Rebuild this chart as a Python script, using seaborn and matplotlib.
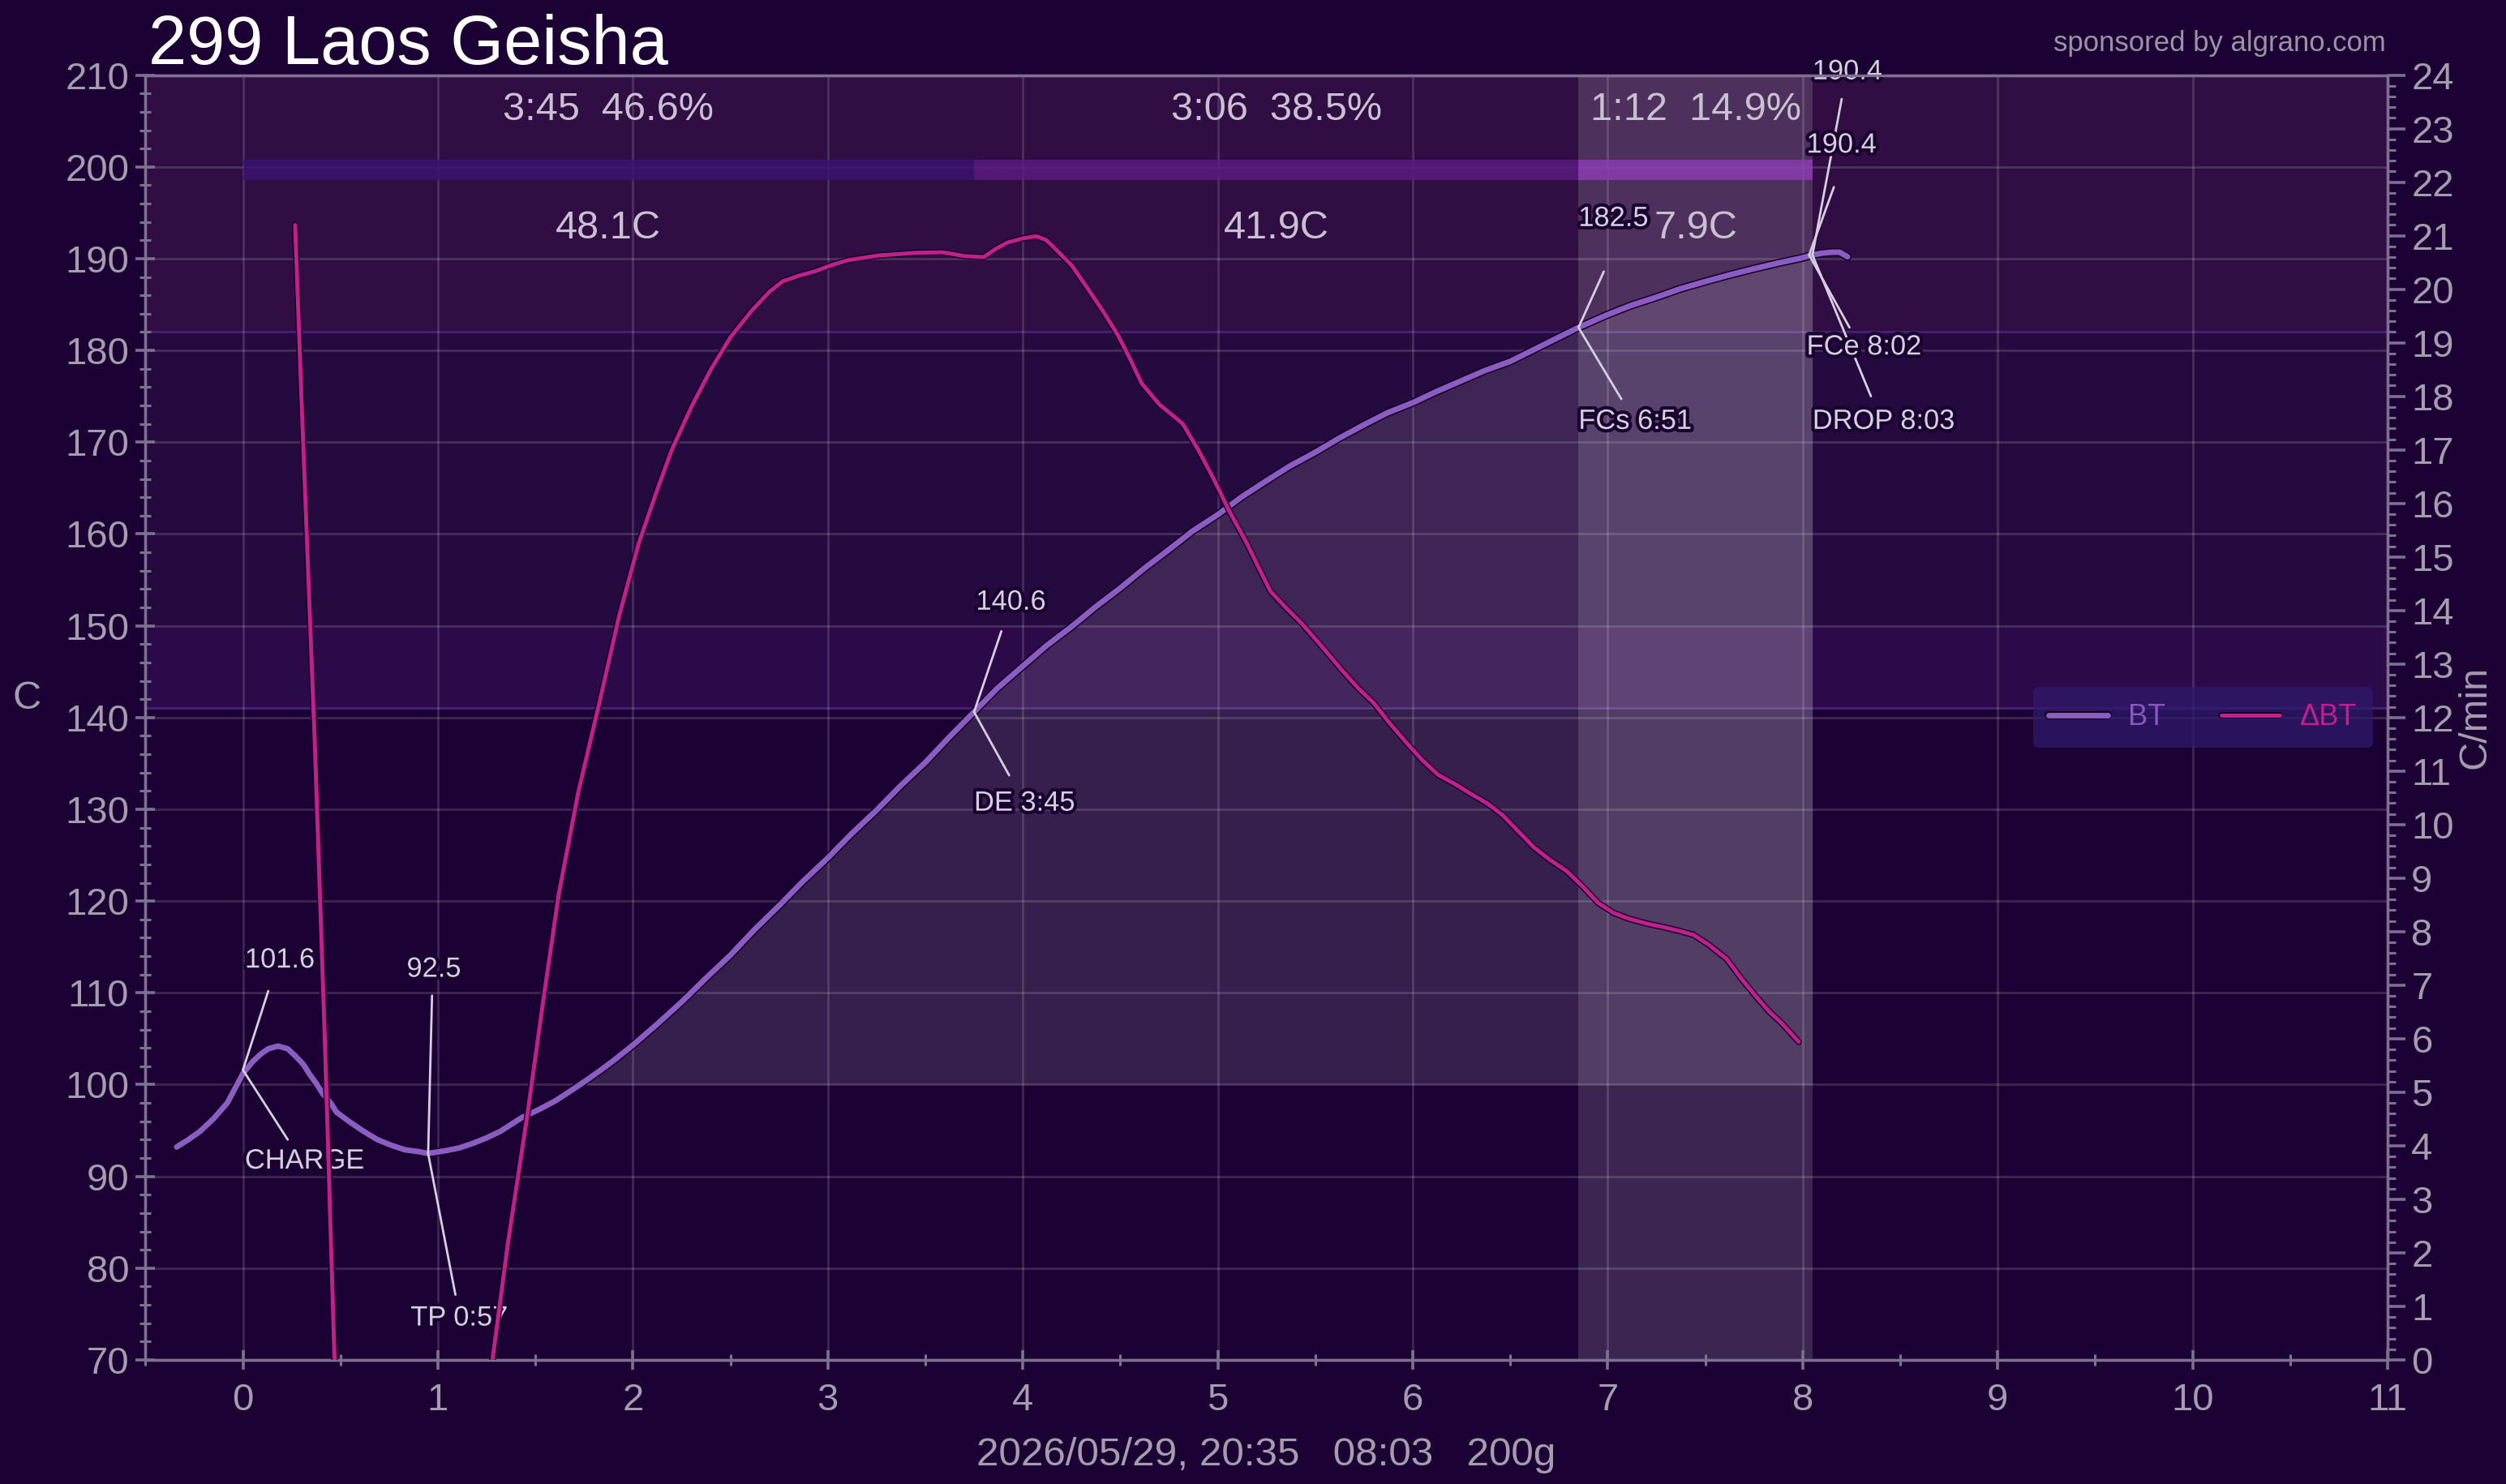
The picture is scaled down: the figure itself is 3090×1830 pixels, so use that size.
import numpy as np
import pandas as pd
import matplotlib
matplotlib.use("Agg")
import matplotlib.pyplot as plt
import matplotlib.patheffects as pe
from matplotlib.ticker import MultipleLocator
import seaborn as sns

# ---------------- data ----------------
TITLE = "299 Laos Geisha"
SPONSOR = "sponsored by algrano.com"
XLABEL = "2026/05/29, 20:35   08:03   200g"
Y_LABEL_LEFT = "C"
Y_LABEL_RIGHT = "C/min"

bt_time = [-0.34, -0.28, -0.22, -0.15, -0.08, 0.0, 0.05, 0.09, 0.13, 0.18, 0.23, 0.27, 0.31,
           0.34, 0.38, 0.41, 0.45, 0.48, 0.55, 0.62, 0.69, 0.76, 0.83, 0.9, 0.95, 1.04,
           1.11, 1.18, 1.25, 1.32, 1.43, 1.52, 1.6, 1.68, 1.75, 1.83, 1.9, 2.0, 2.12,
           2.25, 2.37, 2.5, 2.62, 2.75, 2.87, 3.0, 3.12, 3.25, 3.37, 3.5, 3.62, 3.75, 3.87,
           4.0, 4.12, 4.25, 4.37, 4.5, 4.62, 4.75, 4.87, 5.0, 5.12, 5.25, 5.37, 5.5, 5.62,
           5.75, 5.87, 6.0, 6.12, 6.25, 6.37, 6.5, 6.67, 6.85, 7.0, 7.12, 7.25, 7.37, 7.5,
           7.62, 7.75, 7.87, 8.0, 8.05, 8.1, 8.15, 8.19, 8.23]
bt_temp = [93.2, 94.0, 94.9, 96.3, 98.0, 101.2, 102.5, 103.3, 103.9, 104.2, 103.9, 103.1, 102.2,
           101.2, 100.0, 99.0, 98.0, 97.0, 95.9, 94.9, 94.0, 93.4, 92.9, 92.7, 92.5, 92.8,
           93.1, 93.6, 94.2, 94.9, 96.4, 97.3, 98.2, 99.3, 100.3, 101.5, 102.6, 104.3, 106.5,
           109.0, 111.5, 114.1, 116.8, 119.5, 122.1, 124.7, 127.3, 129.9, 132.5, 135.1,
           137.8, 140.6, 143.2, 145.6, 147.8, 149.9, 152.0, 154.1, 156.2, 158.3, 160.3, 162.1,
           164.0, 165.8, 167.4, 168.9, 170.4, 171.9, 173.2, 174.3, 175.5, 176.7, 177.8, 178.8,
           180.6, 182.5, 183.9, 184.9, 185.8, 186.7, 187.5, 188.2, 188.9, 189.5, 190.1, 190.4,
           190.6, 190.7, 190.7, 190.2]

ror_time = [0.268, 0.3, 0.37, 0.42, 0.47, 0.52, 1.22, 1.28, 1.36, 1.46, 1.54, 1.62, 1.72,
            1.83, 1.93, 2.03, 2.12, 2.2, 2.3, 2.4, 2.5, 2.61, 2.7, 2.77, 2.85, 2.93, 3.02,
            3.1, 3.26, 3.45, 3.59, 3.7, 3.8, 3.86, 3.92, 4.0, 4.07, 4.12, 4.16, 4.25, 4.33,
            4.41, 4.49, 4.55, 4.61, 4.7, 4.82, 4.9, 4.98, 5.06, 5.15, 5.21, 5.27, 5.35, 5.43,
            5.54, 5.64, 5.72, 5.8, 5.88, 5.97, 6.05, 6.13, 6.22, 6.3, 6.38, 6.46, 6.54, 6.62,
            6.7, 6.79, 6.87, 6.95, 7.03, 7.11, 7.2, 7.28, 7.36, 7.44, 7.52, 7.61, 7.69, 7.77,
            7.83, 7.89, 7.98]
ror_value = [21.2, 18.0, 11.4, 6.0, 0.0, -2.0, -2.0, 0.0, 2.2, 4.6, 6.7, 8.7, 10.6, 12.3,
             13.9, 15.25, 16.2, 17.0, 17.8, 18.5, 19.1, 19.6, 19.95, 20.15, 20.25, 20.33,
             20.45, 20.54, 20.63, 20.68, 20.69, 20.62, 20.6, 20.75, 20.87, 20.95, 20.99,
             20.92, 20.78, 20.45, 20.03, 19.6, 19.13, 18.7, 18.24, 17.85, 17.49, 17.0, 16.45,
             15.85, 15.25, 14.8, 14.36, 14.05, 13.76, 13.3, 12.87, 12.55, 12.27, 11.9, 11.52,
             11.2, 10.93, 10.75, 10.57, 10.4, 10.18, 9.88, 9.58, 9.35, 9.13, 8.85, 8.54, 8.35,
             8.24, 8.15, 8.09, 8.02, 7.94, 7.75, 7.49, 7.1, 6.75, 6.5, 6.3, 5.94]

event_time = [0.0, 0.95, 3.75, 6.85, 8.033, 8.05]
event_temp = [101.6, 92.5, 140.6, 182.5, 190.4, 190.4]
event_labels = ["CHARGE", "TP 0:57", "DE 3:45", "FCs 6:51", "FCe 8:02", "DROP 8:03"]
event_temp_labels = ["101.6", "92.5", "140.6", "182.5", "190.4", "190.4"]

phase_start = [0.0, 3.75, 6.85]
phase_end = [3.75, 6.85, 8.05]
phase_duration = ["3:45", "3:06", "1:12"]
phase_percent = ["46.6%", "38.5%", "14.9%"]
phase_rise = ["48.1C", "41.9C", "7.9C"]

band_low = [141, 150, 182]
band_high = [150, 182, 210]

# ---------------- layout / style constants ----------------
BG = "#1c0234"
BAND_COLORS = ["#2c0949", "#250a3f", "#300d42"]
PHASE_BAR_COLORS = ["#3b1270", "#5a1a80", "#8a3cb0"]
BT_COLOR = "#8a5cc4"
ROR_COLOR = "#c21f8e"
TICK_COLOR = "#a59cae"
SPINE_COLOR = "#7d7090"
ANNOT_COLOR = "#d6cfe0"

# text placement for annotations (label anchor, connector end), in data units
temp_text_pos = [(0.01, 113.5), (0.84, 112.5), (3.76, 152.5), (6.85, 194.3), (8.02, 202.3), (8.05, 210.3)]
temp_line_end = [(0.13, 110.2), (0.97, 109.7), (3.89, 149.4), (6.98, 188.6), (8.16, 197.8), (8.20, 207.4)]
event_text_pos = [(0.01, 91.6), (0.86, 74.5), (3.75, 130.6), (6.85, 172.2), (8.02, 180.3), (8.05, 172.2)]
event_line_end = [(0.23, 94.0), (1.09, 77.1), (3.93, 133.7), (7.07, 174.7), (8.24, 182.5), (8.35, 175.0)]

sns.set_theme(style="dark")
plt.rcParams["font.family"] = ["Liberation Sans", "DejaVu Sans"]
plt.rcParams["axes.unicode_minus"] = False

fig = plt.figure(figsize=(15.45, 9.15), dpi=200, facecolor=BG)
AX_RECT = [0.05803, 0.08361, 0.89473, 0.86579]
ax = fig.add_axes(AX_RECT)
ax.set_facecolor(BG)
ax.set_xlim(-0.5, 11)
ax.set_ylim(70, 210)

# horizontal background bands
for lo, hi, c in zip(band_low, band_high, BAND_COLORS):
    ax.axhspan(lo, hi, color=c, zorder=0.1, lw=0)
for y in (band_low[0], band_low[2]):
    ax.axhline(y, color="#48207a", lw=1.0, zorder=0.2)

# grid
ax.xaxis.set_major_locator(MultipleLocator(1))
ax.xaxis.set_minor_locator(MultipleLocator(0.5))
ax.yaxis.set_major_locator(MultipleLocator(10))
ax.yaxis.set_minor_locator(MultipleLocator(2))
ax.grid(True, which="major", color="white", alpha=0.15, lw=1.0, zorder=0.3)
ax.set_axisbelow(True)

# development band (FCs -> DROP)
ax.axvspan(event_time[3], event_time[5], color="white", alpha=0.145, lw=0, zorder=0.5)

# phase bars at top
for s, e, c in zip(phase_start, phase_end, PHASE_BAR_COLORS):
    ax.fill_between([s, e], 198.6, 200.8, color=c, alpha=0.85, lw=0, zorder=0.6)

# phase texts
for s, e, d, p, r in zip(phase_start, phase_end, phase_duration, phase_percent, phase_rise):
    xc = (s + e) / 2
    ax.text(xc, 206.2, f"{d}  {p}", ha="center", va="center", fontsize=17.5, color="#c9c1d2", zorder=5)
    ax.text(xc, 193.3, r, ha="center", va="center", fontsize=17.5, color="#c9c1d2", zorder=5)

# area under BT between TP and DROP
bt_df = pd.DataFrame({"time": bt_time, "BT": bt_temp})
mask = (bt_df["time"] >= event_time[1]) & (bt_df["time"] <= event_time[5]) & (bt_df["BT"] >= 100)
ax.fill_between(bt_df["time"], 100, bt_df["BT"], where=mask, interpolate=True,
                color="#d8d0e0", alpha=0.14, lw=0, zorder=0.7)

# BT curve
sns.lineplot(data=bt_df, x="time", y="BT", ax=ax, color=BT_COLOR, lw=2.5, sort=False,
             estimator=None, zorder=4, label="BT", legend=False)
bt_line = ax.lines[-1]
bt_line.set_solid_joinstyle("round")
bt_line.set_path_effects([pe.Stroke(linewidth=3.6, foreground="#12001f"), pe.Normal()])

# RoR on twin axis
ax2 = ax.twinx()
ax2.set_ylim(0, 24)
ax2.patch.set_visible(False)
ror_df = pd.DataFrame({"time": ror_time, "RoR": ror_value})
sns.lineplot(data=ror_df, x="time", y="RoR", ax=ax2, color=ROR_COLOR, lw=1.8, sort=False,
             estimator=None, zorder=3, label="ΔBT", legend=False)
ror_line = ax2.lines[-1]
ror_line.set_solid_joinstyle("round")
ror_line.set_path_effects([pe.Stroke(linewidth=2.8, foreground="#12001f"), pe.Normal()])
ax2.grid(False)

# annotations
txt_fx = [pe.withStroke(linewidth=3, foreground="#1a0230")]
for i in range(len(event_time)):
    pt = (event_time[i], event_temp[i])
    ax.annotate("", xy=pt, xytext=temp_line_end[i],
                arrowprops=dict(arrowstyle="-", color=ANNOT_COLOR, lw=1.0, shrinkA=0, shrinkB=0),
                zorder=6, annotation_clip=False)
    ax.annotate("", xy=pt, xytext=event_line_end[i],
                arrowprops=dict(arrowstyle="-", color=ANNOT_COLOR, lw=1.0, shrinkA=0, shrinkB=0),
                zorder=6, annotation_clip=False)
    t1 = ax.text(*temp_text_pos[i], event_temp_labels[i], ha="left", va="center", fontsize=12.4,
                 color=ANNOT_COLOR, zorder=7, clip_on=False)
    t2 = ax.text(*event_text_pos[i], event_labels[i], ha="left", va="center", fontsize=12.4,
                 color=ANNOT_COLOR, zorder=7, clip_on=False)
    t1.set_path_effects(txt_fx)
    t2.set_path_effects(txt_fx)

# ticks & spines
for a in (ax, ax2):
    for sp in a.spines.values():
        sp.set_color(SPINE_COLOR)
        sp.set_linewidth(1.2)
        sp.set_visible(True)
ax.tick_params(axis="both", which="major", direction="inout", length=8.5, width=1.3,
               color=SPINE_COLOR, labelcolor=TICK_COLOR, labelsize=17, bottom=True, left=True)
ax.tick_params(axis="both", which="minor", direction="inout", length=5, width=1.1,
               color=SPINE_COLOR, bottom=True, left=True)
ax.tick_params(axis="x", which="major", pad=6)
ax.tick_params(axis="y", which="major", pad=3)
ax.set_xticks(range(0, 12))
ax.set_yticks(range(70, 211, 10))

ax2.yaxis.set_major_locator(MultipleLocator(1))
ax2.yaxis.set_minor_locator(MultipleLocator(0.2))
ax2.tick_params(axis="y", which="major", direction="out", length=8, width=1.3, color=SPINE_COLOR,
                labelcolor=TICK_COLOR, labelsize=17, pad=2.5, right=True)
ax2.tick_params(axis="y", which="minor", direction="out", length=3.5, width=1.1, color=SPINE_COLOR, right=True)
ax2.set_yticks(range(0, 25))

ax.set_xlabel("")
ax.set_ylabel("")
fig.text(0.0108, AX_RECT[1] + 0.515 * AX_RECT[3], Y_LABEL_LEFT, ha="center", va="center",
         fontsize=17.5, color=TICK_COLOR)
ax2.set_ylabel(Y_LABEL_RIGHT, fontsize=17.5, color=TICK_COLOR, rotation=90)
ax2.yaxis.set_label_coords(1.031, 0.5)

# legend
h = [bt_line, ror_line]
leg = ax2.legend(h, ["BT", "ΔBT"], loc="center right", bbox_to_anchor=(0.9936, 0.5), ncol=2,
                 fontsize=13, frameon=True, facecolor="#2e1a6a", edgecolor="none", framealpha=0.75,
                 labelcolor=["#8858c0", ROR_COLOR], handlelength=2.0, columnspacing=1.9,
                 handletextpad=0.7, borderpad=0.55, borderaxespad=0.0, fancybox=True)
leg.set_zorder(10)

# titles
fig.text(0.0592, 0.957, TITLE, ha="left", va="baseline", fontsize=30.5, color="white")
fig.text(0.952, 0.9655, SPONSOR, ha="right", va="baseline", fontsize=12.5, color="#9c92a6")
fig.text(0.5054, 0.0126, XLABEL, ha="center", va="baseline", fontsize=17.8, color=TICK_COLOR)

fig.savefig("out.png", dpi=200, facecolor=BG)
